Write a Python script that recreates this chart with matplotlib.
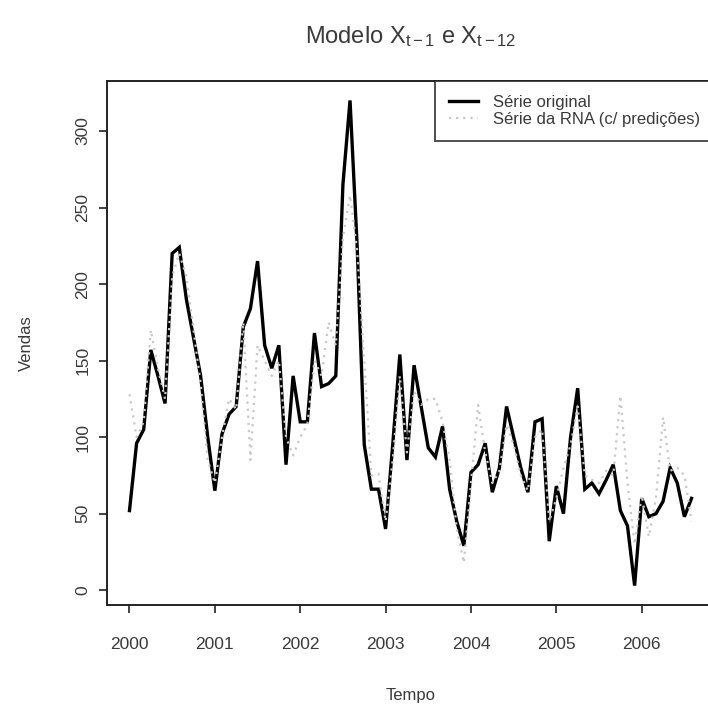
import numpy as np
import matplotlib
matplotlib.use("Agg")
import matplotlib.pyplot as plt

plt.rcParams['font.family'] = ['Liberation Sans', 'DejaVu Sans']
plt.rcParams['mathtext.fontset'] = 'custom'
plt.rcParams['mathtext.rm'] = 'Liberation Sans'
plt.rcParams['mathtext.it'] = 'Liberation Sans'

# Monthly sales, Jan 2000 - Aug 2006
start_year = 2000
vendas_original = [
    52, 96, 105, 157, 140, 122, 220, 224, 190, 165, 140, 100,
    65, 102, 115, 120, 172, 184, 215, 160, 145, 160, 82, 140,
    110, 110, 168, 133, 135, 140, 265, 320, 225, 95, 66, 66,
    40, 95, 154, 85, 147, 120, 93, 87, 107, 66, 45, 29,
    77, 82, 96, 64, 80, 120, 100, 80, 64, 110, 112, 32,
    68, 50, 100, 132, 66, 70, 63, 72, 82, 52, 42, 3,
    60, 48, 50, 58, 80, 70, 48, 60,
]
# Neural-network series (fitted values and predictions)
vendas_rna = [
    128, 100, 110, 170, 145, 125, 205, 220, 205, 170, 135, 85,
    70, 100, 125, 118, 175, 85, 160, 150, 140, 150, 100, 88,
    100, 108, 150, 140, 175, 160, 230, 258, 222, 150, 75, 76,
    45, 85, 140, 90, 130, 121, 125, 125, 110, 85, 40, 18,
    70, 121, 90, 70, 78, 108, 95, 75, 65, 100, 105, 45,
    60, 80, 95, 120, 75, 72, 70, 78, 75, 127, 70, 30,
    62, 35, 60, 113, 78, 80, 75, 45,
]
anos = [2000, 2001, 2002, 2003, 2004, 2005, 2006]
y_ticks = [0, 50, 100, 150, 200, 250, 300]

t = start_year + np.arange(len(vendas_original)) / 12.0

W, H = 708, 707
fig = plt.figure(figsize=(W / 100, H / 100), dpi=100)
ax = fig.add_axes([107 / W, 1 - 605 / H, (714 - 107) / W, (605 - 81) / H])

txt = '#3a3a3a'
ax.plot(t, vendas_original, color='black', lw=2.4, solid_joinstyle='miter',
        label='Série original')
ax.plot(t, vendas_rna, color='#c8c8c8', lw=1.6, linestyle=(0, (1, 2.2)),
        label='Série da RNA (c/ predições)')

# R-style 4% axis extension
xr = t[-1] - t[0]
ax.set_xlim(t[0] - 0.04 * xr, t[-1] + 0.04 * xr)
lo, hi = min(vendas_original), max(vendas_original)
yr = hi - lo
ax.set_ylim(lo - 0.04 * yr, hi + 0.04 * yr)

ax.set_xticks(anos)
ax.set_xticklabels([str(a) for a in anos], fontsize=12.5, color=txt)
ax.set_yticks(y_ticks)
ax.set_yticklabels([str(v) for v in y_ticks], fontsize=12.5, color=txt,
                   rotation=90, va='center')
ax.tick_params(axis='both', direction='out', length=6, width=1.2, color='#222222')
ax.tick_params(axis='x', pad=17)
ax.tick_params(axis='y', pad=6)
for s in ax.spines.values():
    s.set_linewidth(1.4)
    s.set_color('#222222')

ax.set_xlabel('Tempo', fontsize=12, color=txt, labelpad=26)
ax.set_ylabel('Vendas', fontsize=12, color=txt, labelpad=30)
fig.text((107 + 714) / 2 / W, 1 - 37 / H,
         r'Modelo $\mathregular{X_{t-1}}$ e $\mathregular{X_{t-12}}$',
         ha='center', va='center', fontsize=17, color=txt)

leg = ax.legend(loc='upper right', bbox_to_anchor=(1.0, 1.0), borderaxespad=0,
                frameon=True, fancybox=False, fontsize=12, labelspacing=0.12,
                handlelength=1.7, handletextpad=0.9, borderpad=0.85,
                labelcolor=txt)
leg.get_frame().set_edgecolor('#222222')
leg.get_frame().set_linewidth(1.4)

fig.savefig('out.png', dpi=100, facecolor='white')
